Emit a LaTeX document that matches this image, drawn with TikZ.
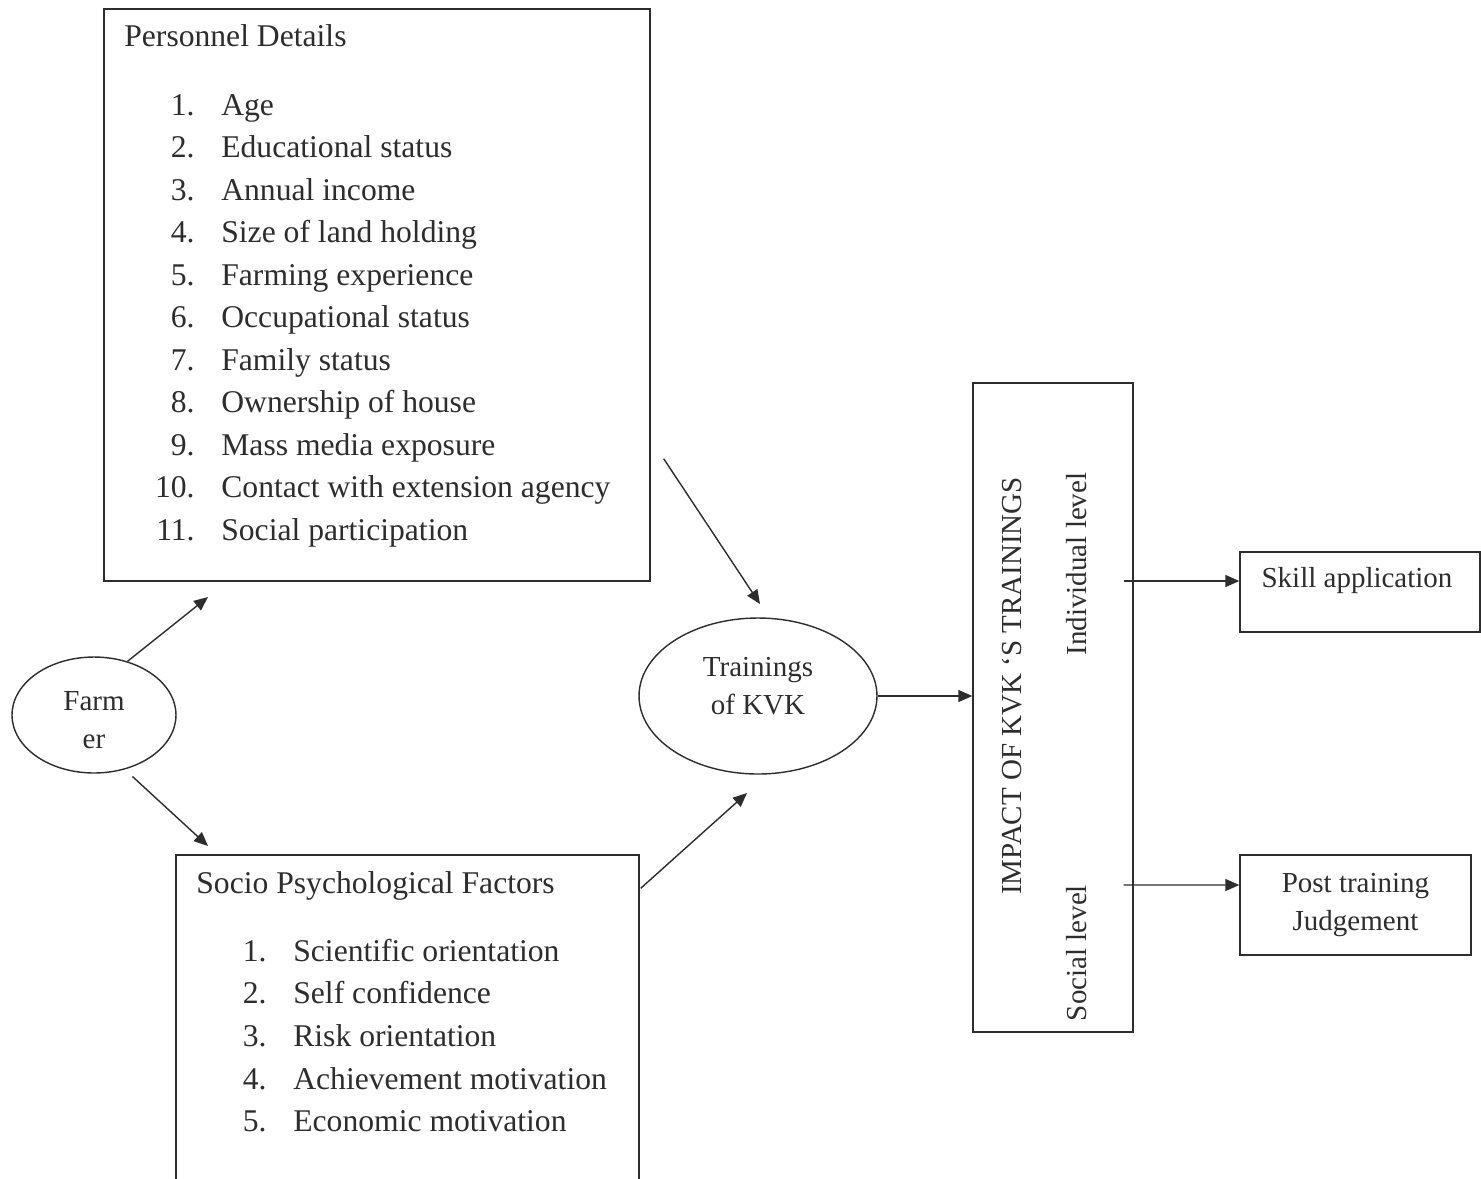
\documentclass[tikz,border=0pt]{standalone}
\usepackage{fontspec}
\setmainfont{Liberation Serif}
\usepackage{tikz}
\usetikzlibrary{arrows.meta,positioning,shapes.geometric,calc}
\definecolor{InkGray}{RGB}{45,45,45}

\begin{document}
\begin{tikzpicture}[x=0.02cm, y=-0.02cm,
        box/.style={draw=InkGray, line width=0.8pt, inner sep=0pt},
        oval/.style={draw=InkGray, line width=0.8pt, ellipse, inner sep=0pt},
        item/.style={text=InkGray, inner sep=0pt, font=\fontsize{18}{22}\selectfont},
        lbl/.style={text=InkGray, inner sep=0pt, align=center, font=\fontsize{16.5}{21.5}\selectfont},
        arr/.style={-{Triangle[length=0.28cm, width=0.24cm]}, line width=0.8pt, draw=InkGray}
]
    \useasboundingbox (0,0) rectangle (1481,1178);
    \fill[white] (0,0) rectangle (1481,1178);
    % left side
    \node[box, minimum width=10.92cm, minimum height=11.44cm] (pers) at (377,295) {};
    \node[item, anchor=base west] (perstitle) at (124,46) {Personnel Details};
    \foreach \n/\t in {1/Age, 2/Educational status, 3/Annual income, 4/Size of land holding,
            5/Farming experience, 6/Occupational status, 7/Family status, 8/Ownership of house,
            9/Mass media exposure, 10/Contact with extension agency, 11/Social participation}
        {
        \node[item, anchor=base east] (pnum\n) at (195,{115+42.5*(\n-1)}) {\n.};
        \node[item, anchor=base west] (pitem\n) at (221,{115+42.5*(\n-1)}) {\t};
        }
    \node[box, minimum width=9.26cm, minimum height=6.9cm] (socio) at (407.5,1027.5) {};
    \node[item, anchor=base west] (sociotitle) at (196,893) {Socio Psychological Factors};
    \foreach \n/\t in {1/Scientific orientation, 2/Self confidence, 3/Risk orientation,
            4/Achievement motivation, 5/Economic motivation}
        {
        \node[item, anchor=base east] (snum\n) at (267,{961+42.7*(\n-1)}) {\n.};
        \node[item, anchor=base west] (sitem\n) at (293,{961+42.7*(\n-1)}) {\t};
        }
    \node[oval, minimum width=3.28cm, minimum height=2.32cm] (farmer) at (94,715) {};
    \node[lbl, anchor=base] (farmer1) at (94,710) {Farm};
    \node[lbl, anchor=base] (farmer2) at (94,748) {er};
    \node[oval, minimum width=4.76cm, minimum height=3.12cm] (train) at (758,696) {};
    \node[lbl, anchor=base] (train1) at (758,676) {Trainings};
    \node[lbl, anchor=base] (train2) at (758,714) {of KVK};
    % right side
    \node[box, minimum width=3.2cm, minimum height=12.98cm] (impact) at (1053,707.5) {};
    \node[lbl, rotate=90] (impacttitle) at (1012,686) {IMPACT OF KVK ‘S TRAININGS};
    \node[lbl, rotate=90] (indiv) at (1077,564) {Individual level};
    \node[lbl, rotate=90] (social) at (1077,953) {Social level};
    \node[box, minimum width=4.8cm, minimum height=1.6cm] (skill) at (1360,592) {};
    \node[lbl] (skilltext) at (1357,581) {Skill application};
    \node[box, minimum width=4.62cm, minimum height=2cm, lbl] (post) at (1355.5,905) {Post training\\Judgement};
    \coordinate (pers-in) at (208,597);
    \coordinate (socio-in) at (208,846);
    \coordinate (train-in1) at (760,604);
    \coordinate (train-in2) at (747,793);
    \draw[arr] (farmer.58) -- (pers-in);
    \draw[arr] ($(farmer.south east)+(-20,20)$) -- (socio-in);
    \draw[arr] ($(pers.south east)+(13,-123)$) -- (train-in1);
    \draw[arr] ($(socio.north east)+(1,34)$) -- (train-in2);
    \draw[arr] (train.east) -- (train.east -| impact.west);
    \draw[arr] ($(impact.east |- skilltext)+(-10,0)$) -- (skill.west |- skilltext);
    \draw[arr] ($(impact.east)+(-10,177.5)$) -- ($(post.west)+(0,-20)$);
\end{tikzpicture}
\end{document}
